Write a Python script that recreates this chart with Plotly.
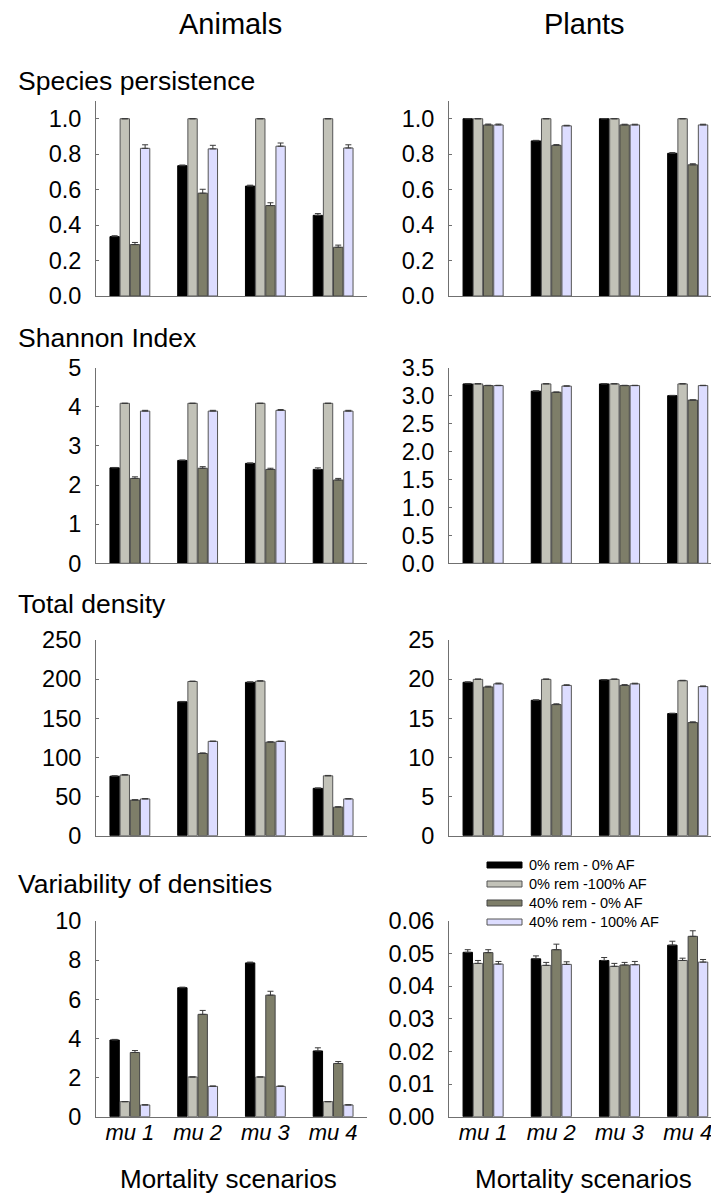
import plotly.graph_objects as go
from plotly.subplots import make_subplots

W, H = 711, 1195

scenarios = ["mu 1", "mu 2", "mu 3", "mu 4"]
series_names = ["0% rem - 0% AF", "0% rem -100% AF", "40% rem - 0% AF", "40% rem - 100% AF"]
series_colors = ["#000000", "#C2C2B8", "#7E7E69", "#DDDDFF"]
series_lines = ["#000000", "#555555", "#444444", "#555555"]

# ---- Species persistence ----
animals_persist = [
    [0.335, 0.735, 0.62, 0.455],
    [1.0, 1.0, 1.0, 1.0],
    [0.29, 0.58, 0.51, 0.275],
    [0.833, 0.83, 0.845, 0.835],
]
animals_persist_err = [
    [0.005, 0.004, 0.005, 0.01],
    [0.0, 0.0, 0.0, 0.0],
    [0.012, 0.022, 0.016, 0.012],
    [0.02, 0.02, 0.018, 0.018],
]
plants_persist = [
    [1.0, 0.875, 1.0, 0.805],
    [1.0, 1.0, 1.0, 1.0],
    [0.965, 0.85, 0.965, 0.74],
    [0.965, 0.96, 0.965, 0.965],
]
plants_persist_err = [
    [0.0, 0.003, 0.0, 0.004],
    [0.0, 0.0, 0.0, 0.0],
    [0.005, 0.004, 0.004, 0.006],
    [0.005, 0.003, 0.004, 0.004],
]

# ---- Shannon index ----
animals_shannon = [
    [2.44, 2.63, 2.555, 2.40],
    [4.09, 4.09, 4.09, 4.09],
    [2.17, 2.43, 2.40, 2.13],
    [3.89, 3.89, 3.91, 3.89],
]
animals_shannon_err = [
    [0.01, 0.01, 0.01, 0.04],
    [0.0, 0.0, 0.0, 0.0],
    [0.04, 0.04, 0.03, 0.04],
    [0.02, 0.02, 0.02, 0.02],
]
plants_shannon = [
    [3.21, 3.08, 3.21, 3.00],
    [3.21, 3.21, 3.21, 3.21],
    [3.18, 3.06, 3.18, 2.92],
    [3.18, 3.17, 3.18, 3.18],
]
plants_shannon_err = [
    [0.005, 0.005, 0.005, 0.005],
    [0.005, 0.005, 0.005, 0.005],
    [0.005, 0.005, 0.005, 0.005],
    [0.005, 0.005, 0.005, 0.005],
]

# ---- Total density ----
animals_density = [
    [76.0, 171.0, 196.0, 60.5],
    [77.5, 197.0, 197.5, 76.5],
    [45.5, 105.0, 119.5, 36.5],
    [47.0, 120.5, 120.5, 47.0],
]
animals_density_err = [
    [0.5, 0.5, 0.5, 0.5],
    [0.5, 0.5, 0.5, 0.5],
    [0.5, 0.8, 0.5, 0.5],
    [0.3, 0.3, 0.3, 0.3],
]
plants_density = [
    [19.6, 17.3, 19.9, 15.6],
    [19.97, 19.97, 19.97, 19.8],
    [19.0, 16.75, 19.2, 14.45],
    [19.4, 19.2, 19.4, 19.05],
]
plants_density_err = [
    [0.05, 0.05, 0.05, 0.05],
    [0.05, 0.05, 0.05, 0.05],
    [0.1, 0.1, 0.1, 0.1],
    [0.1, 0.08, 0.08, 0.08],
]

# ---- Variability of densities ----
animals_var = [
    [3.92, 6.59, 7.86, 3.36],
    [0.77, 2.03, 2.03, 0.77],
    [3.28, 5.23, 6.21, 2.72],
    [0.60, 1.55, 1.55, 0.60],
]
animals_var_err = [
    [0.03, 0.03, 0.04, 0.16],
    [0.0, 0.0, 0.0, 0.0],
    [0.1, 0.2, 0.2, 0.1],
    [0.01, 0.02, 0.02, 0.01],
]
plants_var = [
    [0.0504, 0.0484, 0.0479, 0.0526],
    [0.0470, 0.0464, 0.0461, 0.0479],
    [0.0503, 0.0512, 0.0465, 0.0553],
    [0.0468, 0.0467, 0.0466, 0.0474],
]
plants_var_err = [
    [0.0008, 0.0009, 0.0009, 0.0012],
    [0.0009, 0.0009, 0.0009, 0.0007],
    [0.0009, 0.0017, 0.0008, 0.0017],
    [0.0008, 0.0008, 0.0010, 0.0008],
]

row_titles = ["Species persistence", "Shannon Index", "Total density", "Variability of densities"]
col_titles = ["Animals", "Plants"]
x_title = "Mortality scenarios"

panels = [
    (animals_persist, animals_persist_err, plants_persist, plants_persist_err),
    (animals_shannon, animals_shannon_err, plants_shannon, plants_shannon_err),
    (animals_density, animals_density_err, plants_density, plants_density_err),
    (animals_var, animals_var_err, plants_var, plants_var_err),
]

y_left = [([0, 1.1], 0.2, ".1f"), ([0, 5], 1, "d"), ([0, 250], 50, "d"), ([0, 10], 2, "d")]
y_right = [([0, 1.1], 0.2, ".1f"), ([0, 3.5], 0.5, ".1f"), ([0, 25], 5, "d"), ([0, 0.06], 0.01, ".2f")]

FONT = "Liberation Sans, Arial, sans-serif"

fig = make_subplots(rows=4, cols=2)

for r, (ld, le, rd, re) in enumerate(panels, start=1):
    for c, (data, err) in enumerate([(ld, le), (rd, re)], start=1):
        for s in range(4):
            fig.add_trace(
                go.Bar(
                    x=scenarios,
                    y=data[s],
                    name=series_names[s],
                    marker=dict(color=series_colors[s], line=dict(color=series_lines[s], width=1)),
                    error_y=dict(type="data", array=err[s], symmetric=False,
                                 arrayminus=[0] * 4, color="#3A3A3A", thickness=1, width=3),
                    showlegend=False,
                ),
                row=r, col=c,
            )

def ydom(top_px, bot_px):
    return [1 - bot_px / H, 1 - top_px / H]

row_px = [(101, 296), (367.7, 563.3), (640, 835.7), (921, 1116.7)]
xdom_left = [96 / W, 367 / W]
xdom_right = [449 / W, 1.0]
right_xmax = -0.5 + (W - 449) / 68.2

fig.update_layout(
    width=W, height=H, autosize=False,
    margin=dict(l=0, r=0, t=0, b=0, pad=0, autoexpand=False),
    paper_bgcolor="white", plot_bgcolor="white",
    barmode="group", bargap=0.4, bargroupgap=0.08,
    font=dict(family=FONT, color="black"),
    showlegend=False,
)

axis_color = "#707070"
for r in range(1, 5):
    top, bot = row_px[r - 1]
    for c in (1, 2):
        idx = (r - 1) * 2 + c
        xs = "xaxis" if idx == 1 else f"xaxis{idx}"
        ys = "yaxis" if idx == 1 else f"yaxis{idx}"
        rng, dt, fmt = (y_left if c == 1 else y_right)[r - 1]
        fig.layout[xs].update(
            domain=xdom_left if c == 1 else xdom_right,
            range=[-0.5, 3.5] if c == 1 else [-0.5, right_xmax],
            automargin=False,
            showline=True, linecolor=axis_color, linewidth=1,
            showgrid=False, zeroline=False, ticks="",
            showticklabels=(r == 4),
            tickfont=dict(size=22, family=FONT, color="black", style="italic"),
            ticklabelstandoff=-4,
        )
        fig.layout[ys].update(
            domain=ydom(top, bot), range=rng,
            automargin=False,
            tick0=0, dtick=dt, tickformat=fmt,
            showline=True, linecolor=axis_color, linewidth=1,
            showgrid=False, zeroline=False,
            ticks="inside", ticklen=3, tickcolor=axis_color,
            tickfont=dict(size=23.5, family=FONT, color="black"),
            ticklabelstandoff=9,
        )

annotations = []
for txt, xc in zip(col_titles, [231, 584]):
    annotations.append(dict(text=txt, x=xc / W, y=1 - 24 / H, xref="paper", yref="paper",
                            xanchor="center", yanchor="middle", showarrow=False,
                            font=dict(size=29, family=FONT, color="black")))
for txt, yc in zip(row_titles, [81, 338, 604, 884]):
    annotations.append(dict(text=txt, x=16 / W, y=1 - yc / H, xref="paper", yref="paper",
                            xanchor="left", yanchor="middle", showarrow=False,
                            font=dict(size=26.5, family=FONT, color="black")))
for xc in [228, 583]:
    annotations.append(dict(text=x_title, x=xc / W, y=1 - 1179 / H, xref="paper", yref="paper",
                            xanchor="center", yanchor="middle", showarrow=False,
                            font=dict(size=26, family=FONT, color="black")))

shapes = []
leg_y = [865, 884, 903, 922]
for s in range(4):
    yc = leg_y[s]
    shapes.append(dict(type="rect", xref="paper", yref="paper",
                       x0=487 / W, x1=522 / W, y0=1 - (yc + 3) / H, y1=1 - (yc - 3) / H,
                       fillcolor=series_colors[s], line=dict(color=series_lines[s], width=1)))
    annotations.append(dict(text=series_names[s], x=527 / W, y=1 - yc / H, xref="paper", yref="paper",
                            xanchor="left", yanchor="middle", showarrow=False,
                            font=dict(size=14.5, family=FONT, color="black")))

fig.update_layout(annotations=annotations, shapes=shapes)

fig.write_html("out.html")
